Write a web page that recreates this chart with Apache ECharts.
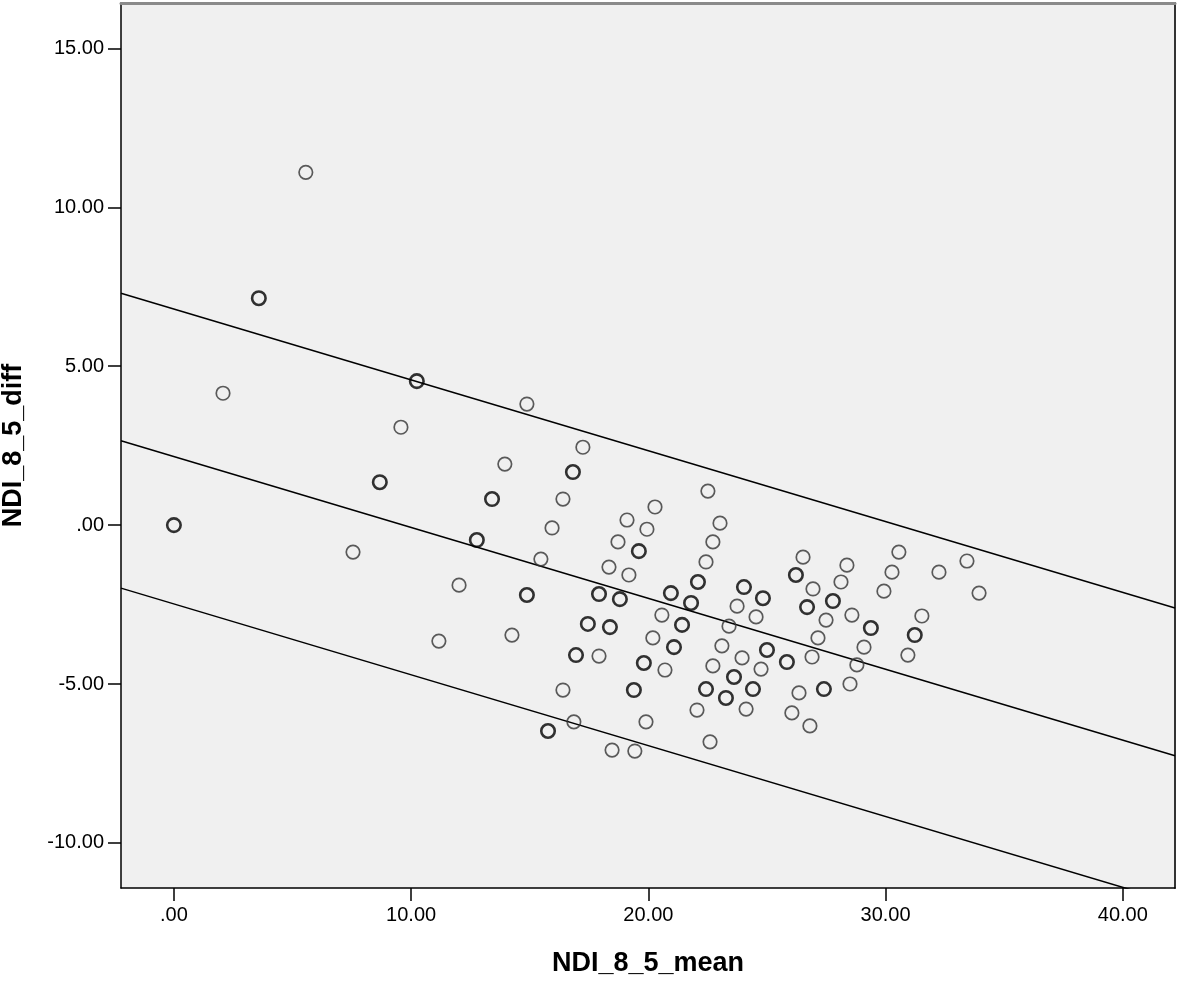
<!DOCTYPE html>
<html>
<head>
<meta charset="utf-8">
<title>NDI_8_5 Bland-Altman</title>
<script src="https://cdn.jsdelivr.net/npm/echarts@6/dist/echarts.min.js"></script>
<style>
  html, body { margin: 0; padding: 0; background: #fff; }
  #chart { width: 1181px; height: 983px; }
</style>
</head>
<body>
<div id="chart"></div>
<script>
// points: [mean, diff]
const singlePoints = [
  [2.07, 4.15], [5.56, 11.10], [7.55, -0.85], [9.57, 3.08], [11.17, -3.65],
  [12.02, -1.89], [13.95, 1.92], [14.25, -3.46], [14.88, 3.81], [15.47, -1.07],
  [15.94, -0.09], [16.40, 0.82], [16.40, -5.19], [16.86, -6.19], [17.24, 2.45],
  [17.92, -4.12], [18.34, -1.32], [18.47, -7.08], [18.72, -0.53], [19.10, 0.16],
  [19.18, -1.57], [19.43, -7.11], [19.90, -6.19], [19.94, -0.13], [20.28, 0.57],
  [20.19, -3.55], [20.57, -2.83], [20.70, -4.56], [22.05, -5.82], [22.43, -1.16],
  [22.51, 1.07], [22.60, -6.82], [22.72, -0.53], [22.72, -4.43], [23.02, 0.06],
  [23.10, -3.80], [23.40, -3.18], [23.74, -2.55], [23.95, -4.18], [24.12, -5.79],
  [24.54, -2.89], [24.75, -4.53], [26.05, -5.91], [26.35, -5.28], [26.52, -1.01],
  [26.81, -6.32], [26.90, -4.15], [26.94, -2.01], [27.15, -3.55], [27.49, -2.99],
  [28.12, -1.79], [28.37, -1.26], [28.50, -5.00], [28.58, -2.83], [28.79, -4.40],
  [29.09, -3.84], [29.93, -2.08], [30.27, -1.48], [30.56, -0.85], [30.94, -4.09],
  [31.53, -2.86], [32.25, -1.48], [33.43, -1.13], [33.94, -2.14]
];
// darker circles (overlapping cases)
const repeatedPoints = [
  [0, 0], [3.58, 7.14], [8.68, 1.35], [10.24, 4.53], [12.77, -0.47],
  [13.41, 0.82], [14.88, -2.20], [15.77, -6.48], [16.82, 1.67], [16.95, -4.09],
  [17.45, -3.11], [17.92, -2.17], [18.38, -3.21], [18.80, -2.33], [19.39, -5.19],
  [19.60, -0.82], [19.81, -4.34], [20.95, -2.14], [21.08, -3.84], [21.42, -3.14],
  [21.80, -2.45], [22.09, -1.79], [22.43, -5.16], [23.27, -5.44], [23.61, -4.78],
  [24.03, -1.95], [24.41, -5.16], [24.83, -2.30], [25.00, -3.93], [25.84, -4.31],
  [26.22, -1.57], [26.69, -2.58], [27.40, -5.16], [27.78, -2.39], [29.38, -3.24],
  [31.23, -3.46]
];

// fit line and limits: y = intercept + slope * x
const slope = -0.223;
const interceptMid = 2.155;
const interceptUpper = 6.80;
const interceptLower = -2.48;

const xTicks = [0, 10, 20, 30, 40];
const yTicks = [-10, -5, 0, 5, 10, 15];
const xMin = -2.23, xMax = 42.2;
const yMin = -11.42, yMax = 16.43;

function fmt(v) {
  return v === 0 ? '.00' : v.toFixed(2);
}

function lineData(a) {
  return [[xMin, a + slope * xMin], [xMax, a + slope * xMax]];
}

const labelFont = { fontFamily: 'Liberation Sans, Arial, sans-serif', fontSize: 20, color: '#000' };
const nameFont = { fontFamily: 'Liberation Sans, Arial, sans-serif', fontSize: 27, fontWeight: 'bold', color: '#000' };

const chart = echarts.init(document.getElementById('chart'));

const lineSeries = [interceptUpper, interceptMid, interceptLower].map((a) => ({
  type: 'line',
  data: lineData(a),
  symbol: 'none',
  silent: true,
  clip: true,
  lineStyle: { color: '#000', width: 1.5 },
  z: 2
}));

chart.setOption({
  animation: false,
  backgroundColor: '#fff',
  grid: {
    left: 121, right: 6, top: 3, bottom: 95,
    containLabel: false,
    outerBoundsMode: 'none',
    show: true,
    backgroundColor: '#f0f0f0',
    borderWidth: 0
  },
  xAxis: [{
    type: 'value',
    min: xMin, max: xMax,
    name: 'NDI_8_5_mean',
    nameLocation: 'middle',
    nameGap: 62,
    nameTextStyle: nameFont,
    splitLine: { show: false },
    axisLine: { onZero: false, lineStyle: { color: '#000', width: 1.5 } },
    axisTick: { length: 13, lineStyle: { color: '#000', width: 1.5 }, customValues: xTicks },
    axisLabel: Object.assign({ margin: 17, customValues: xTicks, formatter: fmt }, labelFont)
  }, {
    type: 'value',
    position: 'top',
    min: xMin, max: xMax,
    splitLine: { show: false },
    axisLine: { onZero: false, lineStyle: { color: '#8a8a8a', width: 3 } },
    axisTick: { show: false },
    axisLabel: { show: false }
  }],
  yAxis: [{
    type: 'value',
    min: yMin, max: yMax,
    name: 'NDI_8_5_diff',
    nameLocation: 'middle',
    nameGap: 94,
    nameTextStyle: nameFont,
    splitLine: { show: false },
    axisLine: { onZero: false, lineStyle: { color: '#000', width: 1.5 } },
    axisTick: { length: 13, lineStyle: { color: '#000', width: 1.5 }, customValues: yTicks },
    axisLabel: Object.assign({ margin: 17, customValues: yTicks, formatter: fmt }, labelFont)
  }, {
    type: 'value',
    position: 'right',
    min: yMin, max: yMax,
    splitLine: { show: false },
    axisLine: { onZero: false, lineStyle: { color: '#333', width: 2 } },
    axisTick: { show: false },
    axisLabel: { show: false }
  }],
  series: lineSeries.concat([
    {
      type: 'scatter',
      data: singlePoints,
      symbol: 'circle',
      symbolSize: 13.5,
      itemStyle: { color: 'rgba(0,0,0,0)', borderColor: '#333', borderWidth: 1.7 },
      z: 3
    },
    {
      type: 'scatter',
      data: repeatedPoints,
      symbol: 'circle',
      symbolSize: 13.5,
      itemStyle: { color: 'rgba(0,0,0,0)', borderColor: '#000', borderWidth: 2.6 },
      z: 4
    }
  ])
});
</script>
</body>
</html>
